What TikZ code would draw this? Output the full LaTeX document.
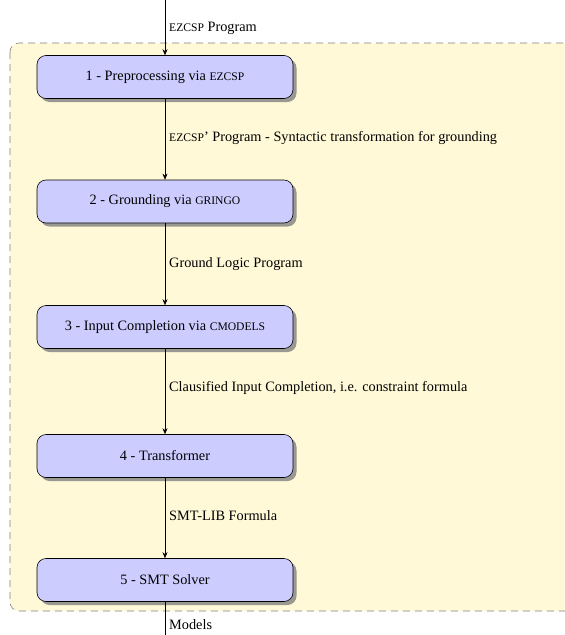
\documentclass[tikz,border=0pt]{standalone}
\usepackage{fontspec}
\setmainfont{Liberation Serif}
\usetikzlibrary{arrows.meta,shadows}
\definecolor{bgyellow}{RGB}{255,249,216}
\definecolor{boxblue}{RGB}{204,204,255}
\newcommand{\fsc}[1]{{\fontsize{11.6}{13}\selectfont #1}}
\begin{document}
\begin{tikzpicture}[x=1pt,y=-1pt,
  stagebox/.style={draw=black, fill=boxblue, rounded corners=9pt, minimum width=256pt, minimum height=43pt, line width=0.6pt,
    drop shadow={shadow xshift=3.5pt, shadow yshift=-3.5pt, fill=black!50, opacity=0.8}},
  flow/.style={-{Stealth[length=6pt,width=5pt]}, line width=0.5pt},
  lbl/.style={anchor=west, inner sep=0pt},
  every node/.style={font=\fontsize{14.3}{16}\selectfont}]
\useasboundingbox (0,0) rectangle (565,635);
\fill[bgyellow, draw=black!50, line width=0.6pt, dash pattern=on 7pt off 5pt, rounded corners=9pt] (10,43) rectangle (575,611);
\node[stagebox] (s1) at (165,77) {1 - Preprocessing via \fsc{EZCSP}};
\node[stagebox] (s2) at (165,201.5) {2 - Grounding via \fsc{GRINGO}};
\node[stagebox] (s3) at (165,327) {3 - Input Completion via \fsc{CMODELS}};
\node[stagebox] (s4) at (165,456) {4 - Transformer};
\node[stagebox] (s5) at (165,580) {5 - SMT Solver};
\coordinate (top) at (165,0);
\coordinate (bot) at (165,635);
\draw[flow] (top) -- (s1.north);
\draw[flow] (s1.south) -- (s2.north);
\draw[flow] (s2.south) -- (s3.north);
\draw[flow] (s3.south) -- (s4.north);
\draw[flow] (s4.south) -- (s5.north);
\draw[line width=0.5pt] (s5.south) -- (bot);
\node[lbl] (l0) at (169,28) {\fsc{EZCSP} Program};
\node[lbl] (l1) at (169,138) {\fsc{EZCSP}' Program - Syntactic transformation for grounding};
\node[lbl] (l2) at (169,264) {Ground Logic Program};
\node[lbl] (l3) at (169,388) {Clausified Input Completion, i.e. constraint formula};
\node[lbl] (l4) at (169,516) {SMT-LIB Formula};
\node[lbl] (l5) at (169,625) {Models};
\end{tikzpicture}
\end{document}
